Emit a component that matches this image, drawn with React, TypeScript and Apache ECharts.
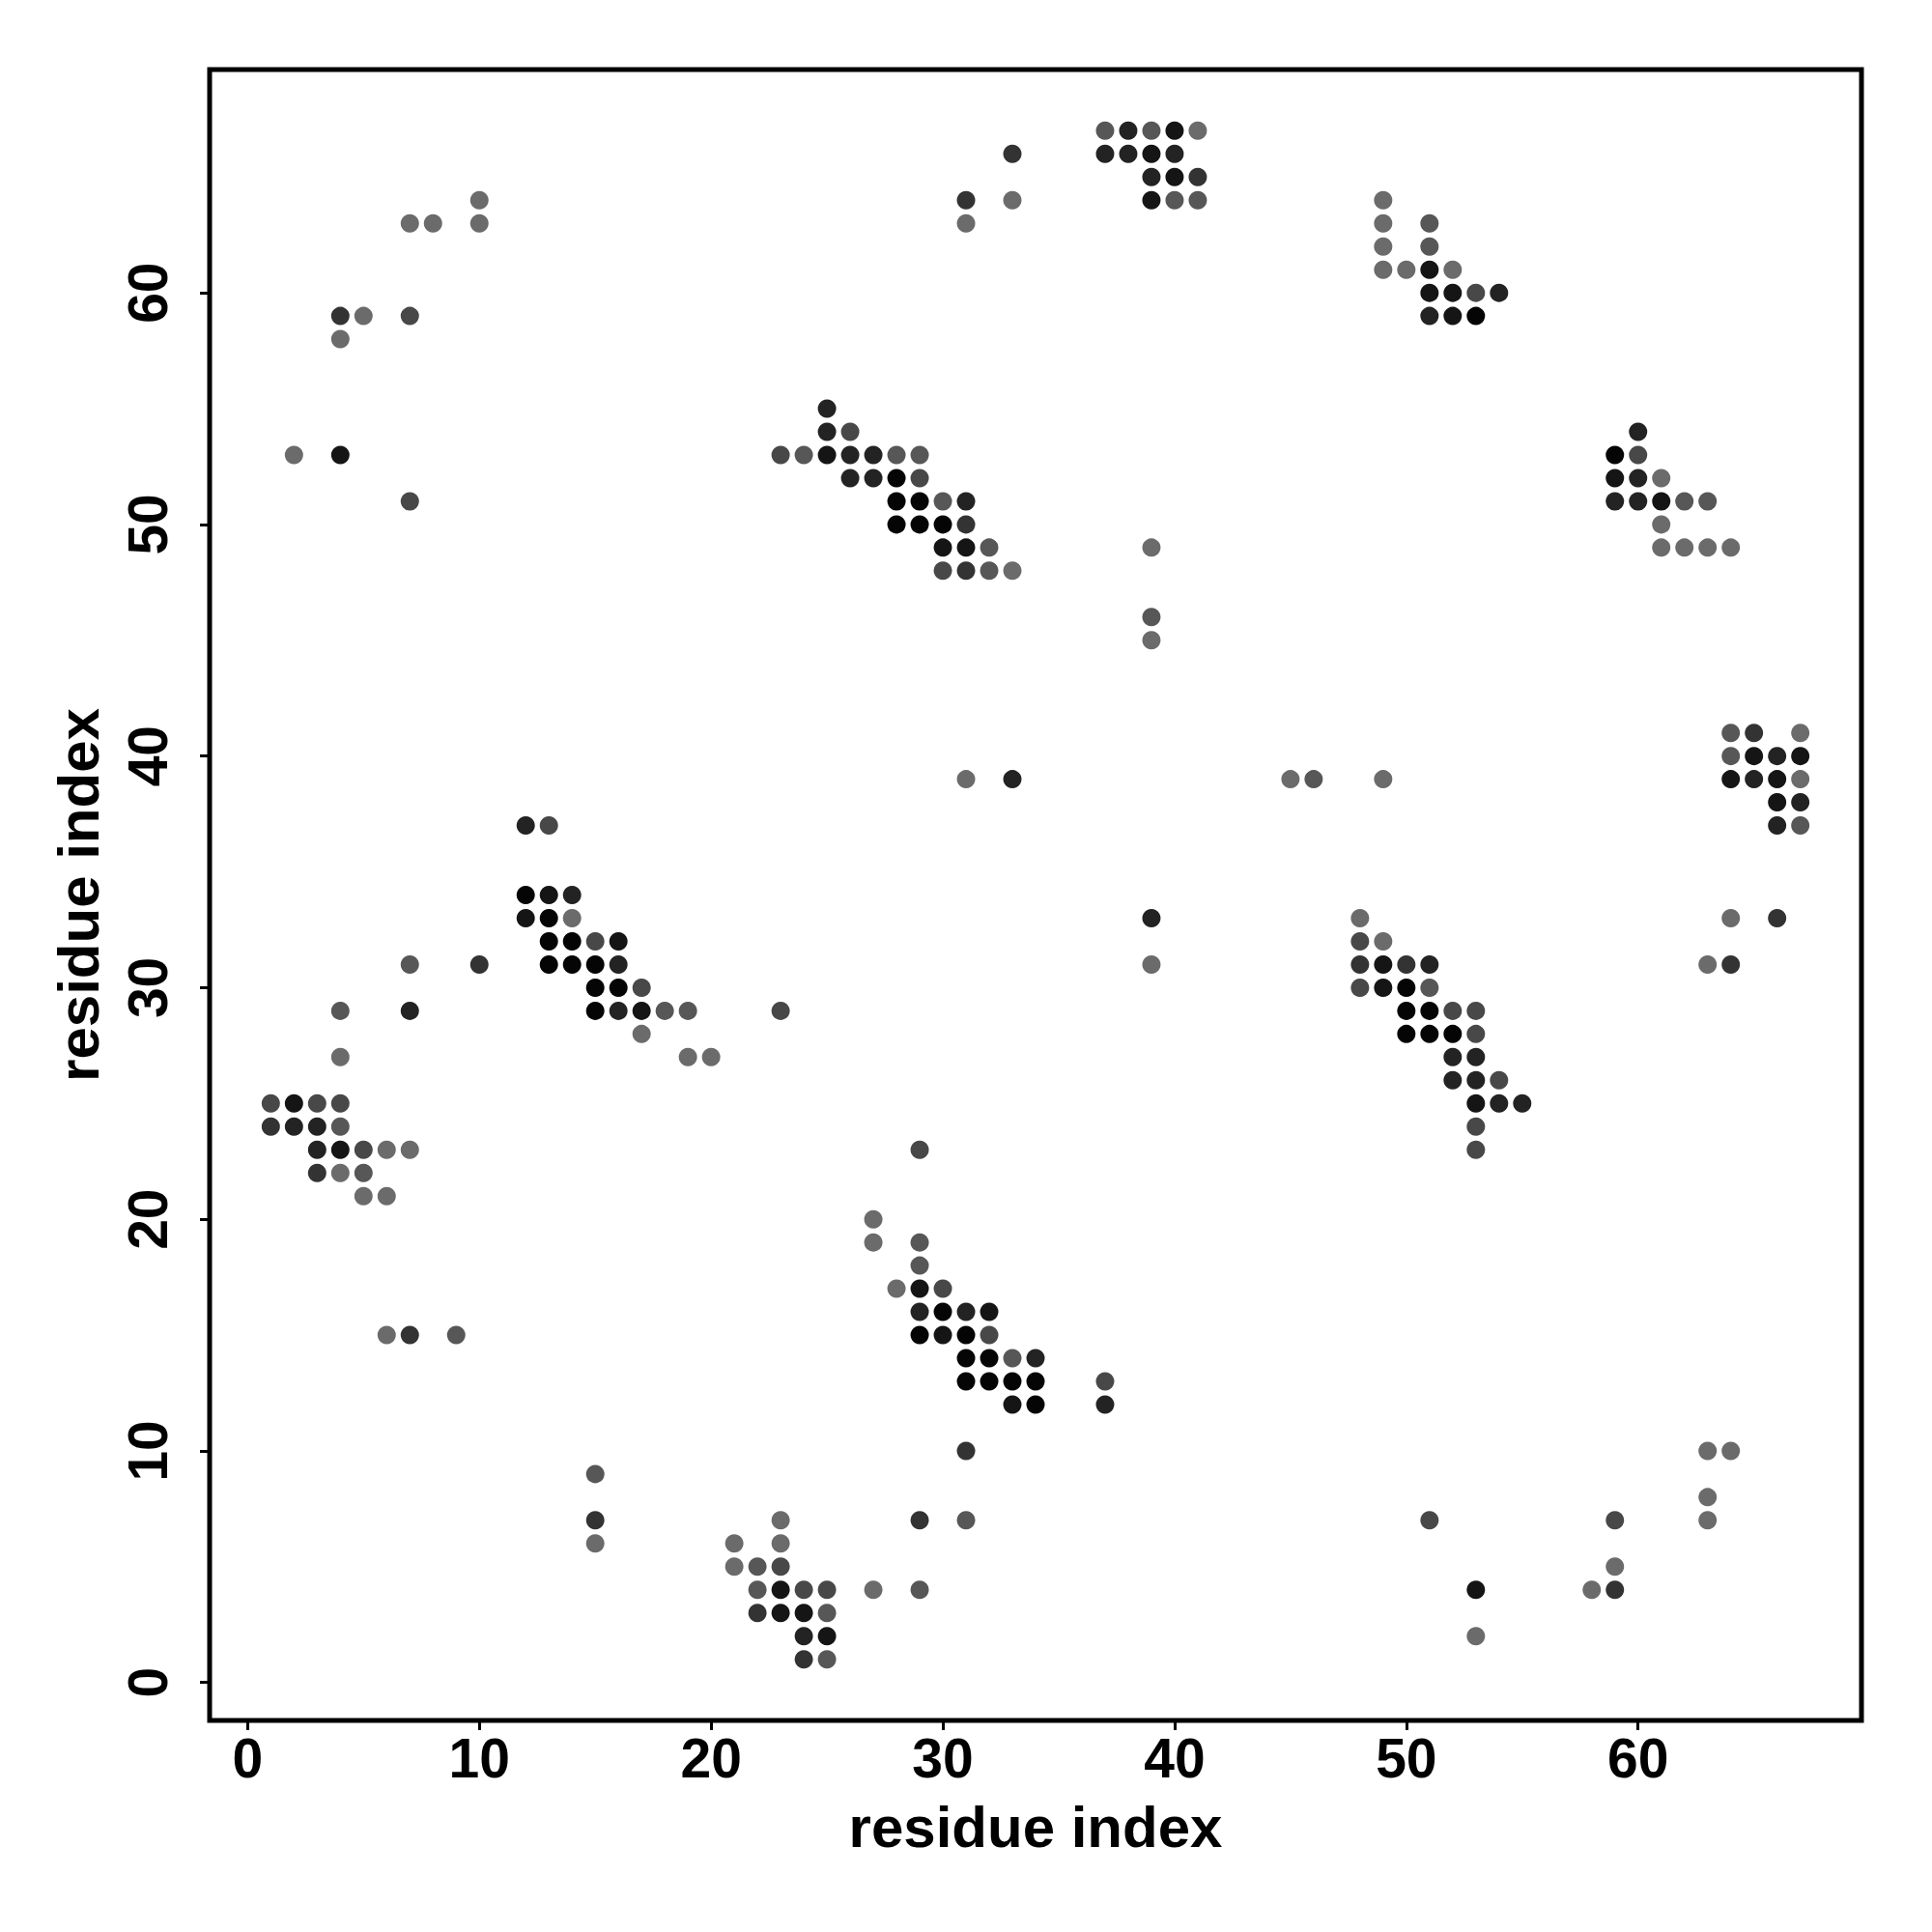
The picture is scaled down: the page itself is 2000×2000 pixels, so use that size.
import React, { useEffect, useRef } from "react";
import * as echarts from "echarts";

// [x residue, y residue, shade level 0 (darkest) .. 6 (lightest)]
type Pt = [number, number, number];

const topLeft: Pt[] = [
  [10, 64, 6], [10, 63, 6], [7, 63, 6], [8, 63, 6], [4, 59, 3], [5, 59, 6], [7, 59, 4],
  [4, 58, 6], [2, 53, 6], [4, 53, 1], [7, 51, 4],
];

const topMiddle: Pt[] = [
  [31, 64, 3], [31, 63, 6], [33, 66, 3], [33, 64, 6],
  [37, 67, 5], [38, 67, 2], [39, 67, 5], [40, 67, 1], [41, 67, 6],
  [37, 66, 2], [38, 66, 2], [39, 66, 1], [40, 66, 2],
  [39, 65, 2], [40, 65, 1], [41, 65, 3],
  [39, 64, 1], [40, 64, 5], [41, 64, 5],
];

const topRight: Pt[] = [
  [49, 64, 6], [49, 63, 6], [51, 63, 5], [49, 62, 6], [51, 62, 5], [49, 61, 6], [50, 61, 6],
  [51, 61, 1], [52, 61, 6], [51, 60, 1], [52, 60, 1], [53, 60, 4], [54, 60, 2],
  [51, 59, 2], [52, 59, 1], [53, 59, 0],
];

const rightUpper: Pt[] = [
  [60, 54, 2], [59, 53, 0], [60, 53, 4], [59, 52, 1], [60, 52, 2], [61, 52, 6],
  [59, 51, 2], [60, 51, 2], [61, 51, 1], [62, 51, 5], [63, 51, 5],
  [61, 50, 6], [61, 49, 6], [62, 49, 6], [63, 49, 6], [64, 49, 6],
];

const middleUpper: Pt[] = [
  [25, 55, 2], [25, 54, 2], [26, 54, 4],
  [23, 53, 4], [24, 53, 5], [25, 53, 1], [26, 53, 2], [27, 53, 2], [28, 53, 5], [29, 53, 5],
  [26, 52, 2], [27, 52, 2], [28, 52, 0], [29, 52, 4],
  [28, 51, 0], [29, 51, 0], [30, 51, 5], [31, 51, 2],
  [28, 50, 0], [29, 50, 0], [30, 50, 0], [31, 50, 3],
  [30, 49, 1], [31, 49, 1], [32, 49, 5],
  [30, 48, 4], [31, 48, 3], [32, 48, 5], [33, 48, 6],
];

const center: Pt[] = [
  [39, 49, 6], [39, 46, 5], [39, 45, 6], [31, 39, 6], [33, 39, 2], [45, 39, 6], [46, 39, 5],
  [49, 39, 6], [39, 33, 2], [39, 31, 6], [23, 29, 4], [29, 23, 4],
];

const rightMiddle: Pt[] = [
  [64, 41, 5], [65, 41, 3], [67, 41, 6],
  [64, 40, 5], [65, 40, 1], [66, 40, 2], [67, 40, 1],
  [64, 39, 1], [65, 39, 2], [66, 39, 1], [67, 39, 6],
  [66, 38, 1], [67, 38, 2],
  [66, 37, 2], [67, 37, 5],
  [64, 33, 6], [66, 33, 3], [63, 31, 6], [64, 31, 3],
];

const diagonalRight: Pt[] = [
  [48, 33, 6], [48, 32, 4], [49, 32, 6],
  [48, 31, 3], [49, 31, 1], [50, 31, 3], [51, 31, 2],
  [48, 30, 4], [49, 30, 1], [50, 30, 0], [51, 30, 5],
  [50, 29, 0], [51, 29, 0], [52, 29, 4], [53, 29, 4],
  [50, 28, 0], [51, 28, 0], [52, 28, 0], [53, 28, 4],
  [52, 27, 2], [53, 27, 2],
  [52, 26, 2], [53, 26, 2], [54, 26, 4],
  [53, 25, 1], [54, 25, 2], [55, 25, 2],
  [53, 24, 4], [53, 23, 4],
];

const leftMiddle: Pt[] = [
  [12, 37, 2], [13, 37, 4],
  [12, 34, 0], [13, 34, 1], [14, 34, 2],
  [12, 33, 1], [13, 33, 0], [14, 33, 6],
  [13, 32, 0], [14, 32, 0], [15, 32, 4], [16, 32, 1],
  [7, 31, 5], [10, 31, 3], [13, 31, 0], [14, 31, 0], [15, 31, 0], [16, 31, 2],
  [15, 30, 0], [16, 30, 0], [17, 30, 4],
  [4, 29, 5], [7, 29, 2], [15, 29, 0], [16, 29, 2], [17, 29, 1], [18, 29, 5], [19, 29, 5],
  [17, 28, 6],
  [4, 27, 6], [19, 27, 6], [20, 27, 6],
];

const leftLower: Pt[] = [
  [1, 25, 4], [2, 25, 1], [3, 25, 4], [4, 25, 4],
  [1, 24, 3], [2, 24, 2], [3, 24, 2], [4, 24, 5],
  [3, 23, 2], [4, 23, 1], [5, 23, 4], [6, 23, 6], [7, 23, 6],
  [3, 22, 3], [4, 22, 6], [5, 22, 5],
  [5, 21, 6], [6, 21, 6],
  [6, 15, 6], [7, 15, 3], [9, 15, 5],
  [15, 9, 5], [15, 7, 3], [15, 6, 6],
];

const bottomLeft: Pt[] = [
  [21, 6, 6], [23, 7, 6], [23, 6, 6],
  [21, 5, 6], [22, 5, 5], [23, 5, 4],
  [22, 4, 5], [23, 4, 1], [24, 4, 4], [25, 4, 4],
  [22, 3, 3], [23, 3, 1], [24, 3, 1], [25, 3, 5],
  [24, 2, 2], [25, 2, 1],
  [24, 1, 3], [25, 1, 5],
  [27, 4, 6], [29, 4, 5], [29, 7, 3], [31, 7, 5], [31, 10, 3],
];

const bottomMiddle: Pt[] = [
  [27, 20, 6], [27, 19, 6], [29, 19, 5], [29, 18, 5],
  [28, 17, 6], [29, 17, 1], [30, 17, 4],
  [29, 16, 2], [30, 16, 0], [31, 16, 2], [32, 16, 1],
  [29, 15, 0], [30, 15, 1], [31, 15, 0], [32, 15, 4],
  [31, 14, 0], [32, 14, 0], [33, 14, 5], [34, 14, 2],
  [31, 13, 0], [32, 13, 0], [33, 13, 0], [34, 13, 0], [37, 13, 4],
  [33, 12, 1], [34, 12, 0], [37, 12, 2],
];

const bottomRight: Pt[] = [
  [51, 7, 4], [53, 4, 1], [53, 2, 6], [58, 4, 6], [59, 4, 3], [59, 5, 6], [59, 7, 4],
  [63, 10, 6], [64, 10, 6], [63, 8, 6], [63, 7, 6],
];

const tickValues = [0, 10, 20, 30, 40, 50, 60];
const axisTitle = "residue index";

const shades = ["#050505", "#151515", "#232323", "#333333", "#484848", "#575757", "#6b6b6b"];
const FONT = "'Liberation Sans', Arial, Helvetica, sans-serif";

export default function App() {
  const ref = useRef<HTMLDivElement>(null);

  useEffect(() => {
    document.body.style.margin = "0";
    if (!ref.current) return;
    const chart = echarts.init(ref.current, undefined, { renderer: "svg" });
    const points: Pt[] = [
      ...topLeft, ...topMiddle, ...topRight, ...rightUpper, ...middleUpper, ...center,
      ...rightMiddle, ...diagonalRight, ...leftMiddle, ...leftLower, ...bottomLeft,
      ...bottomMiddle, ...bottomRight,
    ];
    const axisCommon = {
      type: "value" as const,
      min: -1.64,
      max: 69.64,
      splitLine: { show: false },
      axisLine: { show: false, onZero: false },
      axisTick: {
        show: true,
        customValues: tickValues,
        length: 10,
        lineStyle: { color: "#000", width: 3 },
      },
      name: axisTitle,
      nameLocation: "middle" as const,
      nameTextStyle: { fontFamily: FONT, fontWeight: "bold" as const, fontSize: 60, color: "#000" },
    };
    chart.setOption({
      animation: false,
      backgroundColor: "#fff",
      grid: {
        left: 217,
        right: 73,
        top: 72,
        bottom: 219,
        show: true,
        borderColor: "#000",
        borderWidth: 5,
        backgroundColor: "transparent",
        containLabel: false,
      },
      xAxis: {
        ...axisCommon,
        nameGap: 80,
        axisLabel: {
          customValues: tickValues,
          margin: 10,
          fontFamily: FONT,
          fontWeight: "bold",
          fontSize: 57,
          color: "#000",
        },
      },
      yAxis: {
        ...axisCommon,
        nameGap: 106,
        axisLabel: {
          customValues: tickValues,
          rotate: 90,
          margin: 36,
          fontFamily: FONT,
          fontWeight: "bold",
          fontSize: 57,
          color: "#000",
        },
      },
      series: [
        {
          type: "scatter",
          symbol: "circle",
          symbolSize: 19,
          data: points,
          itemStyle: {
            opacity: 1,
            color: (p: any) => shades[p.data[2]],
          },
          emphasis: { disabled: true },
        },
      ],
    });
    return () => chart.dispose();
  }, []);

  return <div ref={ref} style={{ width: 2000, height: 2000 }} />;
}
